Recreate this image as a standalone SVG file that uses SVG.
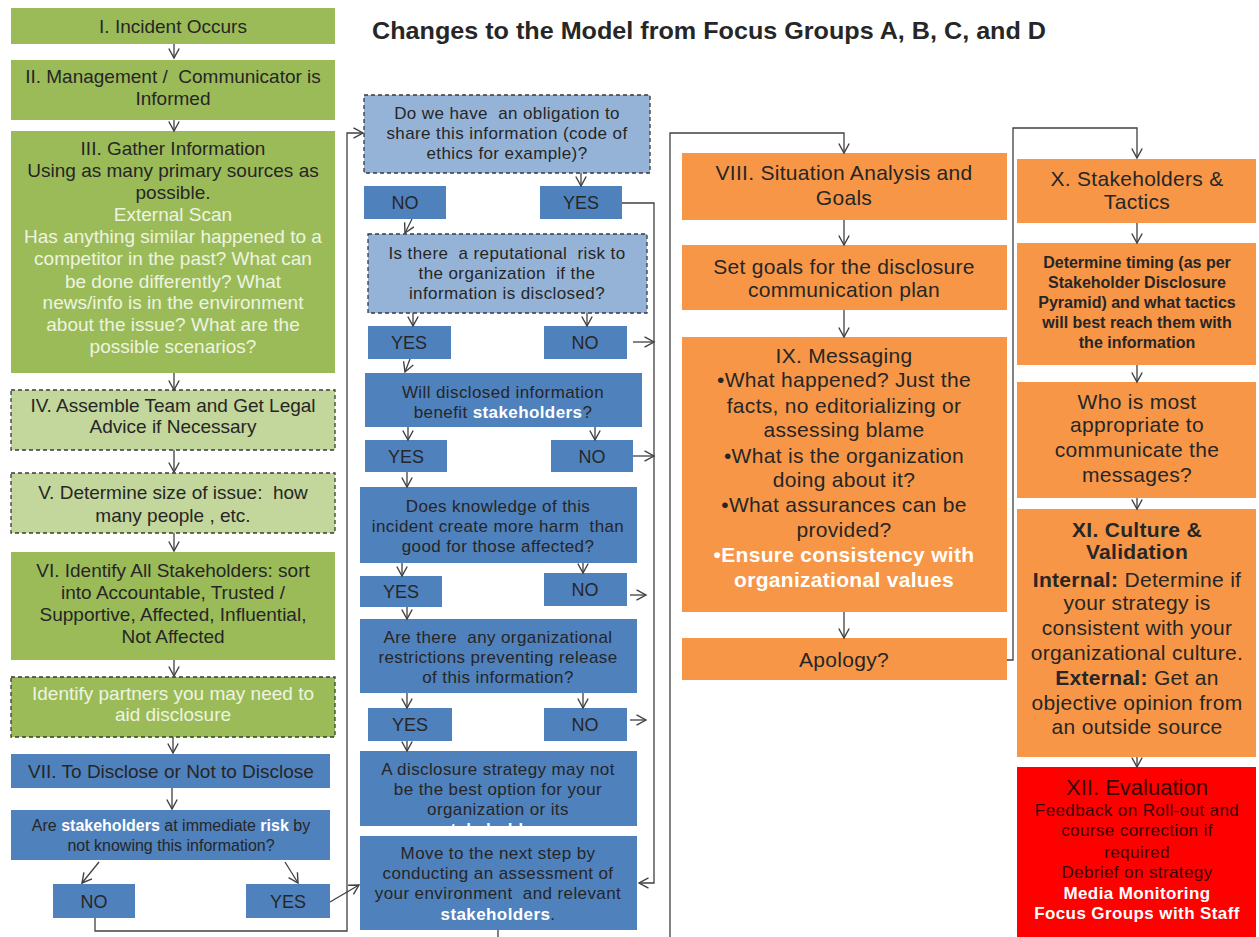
<svg xmlns="http://www.w3.org/2000/svg" width="1259" height="937" viewBox="0 0 1259 937">
  <defs>
    <style>
      text { font-family: "Liberation Sans", Arial, sans-serif; text-anchor: middle; fill: #262626; }
      .g { fill: #9BBB59; }
      .lg { fill: #C3D69B; }
      .lb { fill: #95B3D7; }
      .b { fill: #4F81BD; }
      .o { fill: #F79646; }
      .r { fill: #FF0000; }
      .dash { stroke: #3a3a3a; stroke-width: 1.3; stroke-dasharray: 4 3; }
      .c1 { font-size: 19px; }
      .c2 { font-size: 17px; letter-spacing: 0.4px; }
      .yn { font-size: 18px; }
      .q { font-size: 16px; }
      .c3 { font-size: 21px; letter-spacing: 0.3px; }
      .c4 { font-size: 21px; letter-spacing: 0.3px; }
      .tim { font-size: 16px; font-weight: bold; }
      .ev { font-size: 17px; letter-spacing: 0.4px; }
      .lt { fill: #EEF4E0; }
      .w { fill: #ffffff; font-weight: bold; }
      .bd { font-weight: bold; }
      .red { fill: #3a0505; }
      #connectors path { stroke: #404040; stroke-width: 1.3; fill: none; marker-end: url(#ah); }
      #connectors path.plain { marker-end: none; }
    </style>
    <marker id="ah" viewBox="0 0 12 12" refX="10.5" refY="6" markerWidth="12" markerHeight="12" markerUnits="userSpaceOnUse" orient="auto">
      <path d="M1,0.8 L10.5,6 L1,11.2" fill="none" stroke="#404040" stroke-width="1.4"/>
    </marker>
    <clipPath id="clipA">
      <rect x="360" y="751" width="277" height="85"/>
    </clipPath>
  </defs>

  <rect width="1259" height="937" fill="#ffffff"/>

  <text x="709" y="39" font-size="24" font-weight="bold" fill="#000" textLength="674" lengthAdjust="spacingAndGlyphs">Changes to the Model from Focus Groups A, B, C, and D</text>

  <!-- Column 1: incident to disclosure decision -->
  <g id="n1"><rect class="g" x="11" y="8" width="324" height="36"/>
    <text class="c1" x="173" y="33">I. Incident Occurs</text></g>
  <g id="n2"><rect class="g" x="11" y="60" width="324" height="60"/>
    <text class="c1" x="173" y="83" xml:space="preserve">II. Management /  Communicator is</text>
    <text class="c1" x="173" y="105">Informed</text></g>
  <g id="n3"><rect class="g" x="11" y="131" width="324" height="242"/>
    <text class="c1" x="173" y="155">III. Gather Information</text>
    <text class="c1" x="173" y="177">Using as many primary sources as</text>
    <text class="c1" x="173" y="199">possible.</text>
    <text class="c1 lt" x="173" y="221">External Scan</text>
    <text class="c1 lt" x="173" y="243">Has anything similar happened to a</text>
    <text class="c1 lt" x="173" y="265">competitor in the past? What can</text>
    <text class="c1 lt" x="173" y="288">be done differently? What</text>
    <text class="c1 lt" x="173" y="309">news/info is in the environment</text>
    <text class="c1 lt" x="173" y="331">about the issue? What are the</text>
    <text class="c1 lt" x="173" y="353">possible scenarios?</text></g>
  <g id="n4"><rect class="lg dash" x="11" y="390" width="324" height="60"/>
    <text class="c1" x="173" y="412">IV. Assemble Team and Get Legal</text>
    <text class="c1" x="173" y="433">Advice if Necessary</text></g>
  <g id="n5"><rect class="lg dash" x="11" y="473" width="324" height="60"/>
    <text class="c1" x="173" y="499" xml:space="preserve">V. Determine size of issue:  how</text>
    <text class="c1" x="173" y="522">many people , etc.</text></g>
  <g id="n6"><rect class="g" x="11" y="552" width="324" height="108"/>
    <text class="c1" x="173" y="577">VI. Identify All Stakeholders: sort</text>
    <text class="c1" x="173" y="599">into Accountable, Trusted /</text>
    <text class="c1" x="173" y="621">Supportive, Affected, Influential,</text>
    <text class="c1" x="173" y="643">Not Affected</text></g>
  <g id="n6b"><rect class="g dash" x="11" y="677" width="324" height="60"/>
    <text class="c1 lt" x="173" y="700">Identify partners you may need to</text>
    <text class="c1 lt" x="173" y="721">aid disclosure</text></g>
  <g id="n7"><rect class="b" x="11" y="754" width="319" height="34"/>
    <text class="c1" x="171" y="778">VII. To Disclose or Not to Disclose</text></g>
  <g id="q1"><rect class="b" x="11" y="810" width="319" height="50"/>
    <text class="q" x="171" y="831">Are <tspan class="w">stakeholders</tspan> at immediate <tspan class="w">risk</tspan> by</text>
    <text class="q" x="171" y="851">not knowing this information?</text></g>
  <g id="q1no"><rect class="b" x="53" y="884" width="82" height="34"/>
    <text class="yn" x="94" y="908">NO</text></g>
  <g id="q1yes"><rect class="b" x="246" y="884" width="84" height="34"/>
    <text class="yn" x="288" y="908">YES</text></g>

  <!-- Column 2: disclosure questions -->
  <g id="q2"><rect class="lb dash" x="364" y="95" width="286" height="78"/>
    <text class="c2" x="507" y="119" xml:space="preserve">Do we have  an obligation to</text>
    <text class="c2" x="507" y="139">share this information (code of</text>
    <text class="c2" x="507" y="159">ethics for example)?</text></g>
  <g id="q2no"><rect class="b" x="364" y="186" width="82" height="33"/>
    <text class="yn" x="405" y="209">NO</text></g>
  <g id="q2yes"><rect class="b" x="540" y="186" width="82" height="33"/>
    <text class="yn" x="581" y="209">YES</text></g>
  <g id="q3"><rect class="lb dash" x="368" y="234" width="279" height="79"/>
    <text class="c2" x="507" y="259" xml:space="preserve">Is there  a reputational  risk to</text>
    <text class="c2" x="507" y="279" xml:space="preserve">the organization  if the</text>
    <text class="c2" x="507" y="299">information is disclosed?</text></g>
  <g id="q3yes"><rect class="b" x="368" y="326" width="83" height="33"/>
    <text class="yn" x="409" y="349">YES</text></g>
  <g id="q3no"><rect class="b" x="544" y="326" width="83" height="33"/>
    <text class="yn" x="585" y="349">NO</text></g>
  <g id="q4"><rect class="b" x="365" y="373" width="277" height="54"/>
    <text class="c2" x="503" y="398">Will disclosed information</text>
    <text class="c2" x="503" y="418">benefit <tspan class="w">stakeholders</tspan>?</text></g>
  <g id="q4yes"><rect class="b" x="365" y="440" width="82" height="32"/>
    <text class="yn" x="406" y="463">YES</text></g>
  <g id="q4no"><rect class="b" x="551" y="440" width="82" height="32"/>
    <text class="yn" x="592" y="463">NO</text></g>
  <g id="q5"><rect class="b" x="360" y="487" width="277" height="76"/>
    <text class="c2" x="498" y="512">Does knowledge of this</text>
    <text class="c2" x="498" y="532" xml:space="preserve">incident create more harm  than</text>
    <text class="c2" x="498" y="552">good for those affected?</text></g>
  <g id="q5yes"><rect class="b" x="360" y="576" width="82" height="31"/>
    <text class="yn" x="401" y="598">YES</text></g>
  <g id="q5no"><rect class="b" x="544" y="573" width="83" height="33"/>
    <text class="yn" x="585" y="596">NO</text></g>
  <g id="q6"><rect class="b" x="360" y="619" width="277" height="74"/>
    <text class="c2" x="498" y="643" xml:space="preserve">Are there  any organizational</text>
    <text class="c2" x="498" y="663">restrictions preventing release</text>
    <text class="c2" x="498" y="683">of this information?</text></g>
  <g id="q6yes"><rect class="b" x="368" y="708" width="84" height="33"/>
    <text class="yn" x="410" y="731">YES</text></g>
  <g id="q6no"><rect class="b" x="544" y="708" width="83" height="33"/>
    <text class="yn" x="585" y="731">NO</text></g>
  <g id="nd"><rect class="b" x="360" y="751" width="277" height="75"/>
    <text class="c2" x="498" y="775">A disclosure strategy may not</text>
    <text class="c2" x="498" y="795">be the best option for your</text>
    <text class="c2" x="498" y="815">organization or its</text>
    <text class="c2 w" x="498" y="835" clip-path="url(#clipA)">stakeholders.</text></g>
  <g id="nm"><rect class="b" x="360" y="836" width="277" height="94"/>
    <text class="c2" x="498" y="859">Move to the next step by</text>
    <text class="c2" x="498" y="879">conducting an assessment of</text>
    <text class="c2" x="498" y="899" xml:space="preserve">your environment  and relevant</text>
    <text class="c2" x="498" y="920"><tspan class="w">stakeholders</tspan>.</text></g>

  <!-- Column 3: analysis and messaging -->
  <g id="n8"><rect class="o" x="682" y="153" width="325" height="67"/>
    <text class="c3" x="844" y="180">VIII. Situation Analysis and</text>
    <text class="c3" x="844" y="205">Goals</text></g>
  <g id="n8b"><rect class="o" x="682" y="245" width="325" height="65"/>
    <text class="c3" x="844" y="274">Set goals for the disclosure</text>
    <text class="c3" x="844" y="297">communication plan</text></g>
  <g id="n9"><rect class="o" x="682" y="337" width="325" height="275"/>
    <text class="c3" x="844" y="363">IX. Messaging</text>
    <text class="c3" x="844" y="387">•What happened? Just the</text>
    <text class="c3" x="844" y="413">facts, no editorializing or</text>
    <text class="c3" x="844" y="437">assessing blame</text>
    <text class="c3" x="844" y="463">•What is the organization</text>
    <text class="c3" x="844" y="487">doing about it?</text>
    <text class="c3" x="844" y="512">•What assurances can be</text>
    <text class="c3" x="844" y="537">provided?</text>
    <text class="c3 w" x="844" y="562">•Ensure consistency with</text>
    <text class="c3 w" x="844" y="587">organizational values</text></g>
  <g id="n9b"><rect class="o" x="682" y="638" width="325" height="42"/>
    <text class="c3" x="844" y="667">Apology?</text></g>

  <!-- Column 4: stakeholders, culture, evaluation -->
  <g id="n10"><rect class="o" x="1017" y="159" width="239" height="64"/>
    <text class="c4" x="1137" y="186">X. Stakeholders &amp;</text>
    <text class="c4" x="1137" y="209">Tactics</text></g>
  <g id="n10b"><rect class="o" x="1017" y="243" width="239" height="122"/>
    <text class="tim" x="1137" y="268">Determine timing (as per</text>
    <text class="tim" x="1137" y="288">Stakeholder Disclosure</text>
    <text class="tim" x="1137" y="308">Pyramid) and what tactics</text>
    <text class="tim" x="1137" y="328">will best reach them with</text>
    <text class="tim" x="1137" y="348">the information</text></g>
  <g id="n10c"><rect class="o" x="1017" y="382" width="239" height="116"/>
    <text class="c4" x="1137" y="409">Who is most</text>
    <text class="c4" x="1137" y="432">appropriate to</text>
    <text class="c4" x="1137" y="457">communicate the</text>
    <text class="c4" x="1137" y="482">messages?</text></g>
  <g id="n11"><rect class="o" x="1017" y="509" width="239" height="248"/>
    <text class="c4 bd" x="1137" y="537">XI. Culture &amp;</text>
    <text class="c4 bd" x="1137" y="559">Validation</text>
    <text class="c4" x="1137" y="587"><tspan class="bd">Internal:</tspan> Determine if</text>
    <text class="c4" x="1137" y="610">your strategy is</text>
    <text class="c4" x="1137" y="635">consistent with your</text>
    <text class="c4" x="1137" y="660">organizational culture.</text>
    <text class="c4" x="1137" y="685"><tspan class="bd">External:</tspan> Get an</text>
    <text class="c4" x="1137" y="710">objective opinion from</text>
    <text class="c4" x="1137" y="734">an outside source</text></g>
  <g id="n12"><rect class="r" x="1017" y="767" width="239" height="170"/>
    <text class="red" x="1137" y="795" font-size="22">XII. Evaluation</text>
    <text class="ev red" x="1137" y="816">Feedback on Roll-out and</text>
    <text class="ev red" x="1137" y="836">course correction if</text>
    <text class="ev red" x="1137" y="858">required</text>
    <text class="ev red" x="1137" y="878">Debrief on strategy</text>
    <text class="ev w" x="1137" y="899">Media Monitoring</text>
    <text class="ev w" x="1137" y="919">Focus Groups with Staff</text></g>

  <g id="connectors">
    <!-- column 1 chain -->
    <path d="M174,44 V58"/>
    <path d="M174,120 V131"/>
    <path d="M174,373 V390"/>
    <path d="M174,450 V472"/>
    <path d="M174,533 V551"/>
    <path d="M174,660 V676"/>
    <path d="M173,737 V753"/>
    <path d="M172,788 V809"/>
    <path d="M99,862 L82,883"/>
    <path d="M285,862 L298,883"/>
    <path d="M95,918 V931 H347 V133 H363"/>
    <path d="M330,902 L359,885"/>
    <!-- column 2 questions -->
    <path d="M581,173 V186"/>
    <path d="M412,219 L405,233"/>
    <path d="M622,203 H654 V883 H639"/>
    <path d="M413,313 V326"/>
    <path d="M587,313 V326"/>
    <path d="M633,342 H654"/>
    <path d="M410,359 L405,372"/>
    <path d="M408,427 V440"/>
    <path d="M595,427 V440"/>
    <path d="M633,456 H654"/>
    <path d="M407,472 V487"/>
    <path d="M402,563 V576"/>
    <path d="M583,563 V573"/>
    <path d="M630,595 H646"/>
    <path d="M407,607 V619"/>
    <path d="M407,693 V708"/>
    <path d="M583,693 V708"/>
    <path d="M630,720 H646"/>
    <path d="M407,741 V751"/>
    <path class="plain" d="M498,930 V937"/>
    <!-- column 3 and 4 -->
    <path d="M670,937 V133 H844 V153"/>
    <path d="M844,220 V245"/>
    <path d="M844,310 V337"/>
    <path d="M844,612 V638"/>
    <path d="M1007,660 H1013 V128 H1137 V158"/>
    <path d="M1137,223 V243"/>
    <path d="M1137,365 V382"/>
    <path d="M1137,498 V509"/>
    <path d="M1137,757 V767"/>
  </g>
</svg>
